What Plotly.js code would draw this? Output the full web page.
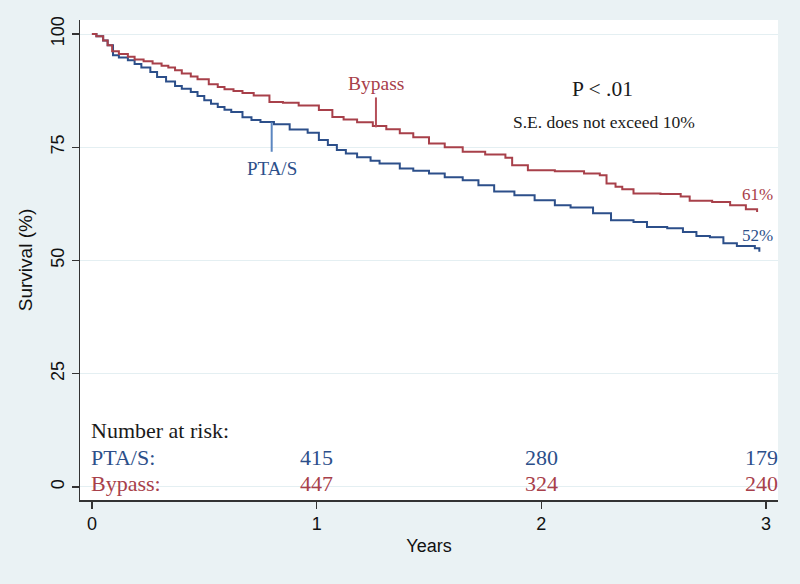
<!DOCTYPE html>
<html>
<head>
<meta charset="utf-8">
<script src="https://cdn.plot.ly/plotly-3.0.1.min.js"></script>
<style>html,body{margin:0;padding:0;background:#eaf2f4;}#chart{width:800px;height:584px;}</style>
</head>
<body>
<div id="chart"></div>
<script>
// ---- Data ----
const bypassYears = [0, 0.02, 0.05, 0.07, 0.09, 0.12, 0.16, 0.19, 0.23, 0.27, 0.31, 0.34, 0.37, 0.40, 0.44, 0.47, 0.52, 0.56, 0.59, 0.63, 0.67, 0.72, 0.79, 0.85, 0.92, 1.01, 1.07, 1.12, 1.18, 1.25, 1.31, 1.37, 1.43, 1.50, 1.57, 1.65, 1.75, 1.84, 1.87, 1.94, 2.06, 2.19, 2.26, 2.29, 2.33, 2.36, 2.41, 2.53, 2.62, 2.66, 2.76, 2.84, 2.91, 2.96];
const bypassSurv  = [100, 99.5, 98.6, 97.5, 96.2, 95.6, 95.0, 94.4, 94.0, 93.5, 93.0, 92.6, 92.0, 91.3, 90.6, 90.0, 88.9, 88.3, 87.8, 87.4, 87.0, 86.4, 85.0, 84.8, 84.2, 83.2, 81.7, 81.1, 80.5, 79.7, 79.0, 78.1, 77.2, 75.8, 75.0, 74.0, 73.4, 72.7, 71.0, 69.9, 69.7, 69.2, 68.8, 67.0, 66.3, 65.7, 64.8, 64.7, 64.1, 63.2, 62.9, 62.2, 61.3, 60.7];

const ptaYears = [0, 0.02, 0.05, 0.07, 0.094, 0.12, 0.16, 0.19, 0.22, 0.26, 0.29, 0.33, 0.37, 0.40, 0.44, 0.47, 0.50, 0.53, 0.56, 0.59, 0.62, 0.67, 0.71, 0.75, 0.81, 0.88, 0.96, 1.01, 1.05, 1.09, 1.13, 1.18, 1.24, 1.28, 1.37, 1.43, 1.50, 1.57, 1.65, 1.72, 1.79, 1.88, 1.97, 2.06, 2.13, 2.23, 2.31, 2.41, 2.47, 2.56, 2.63, 2.69, 2.75, 2.81, 2.87, 2.93, 2.95, 2.97];
const ptaSurv  = [100, 99.5, 98.6, 97.5, 95.3, 94.8, 94.2, 93.4, 92.6, 91.6, 90.5, 89.5, 88.5, 87.9, 87.2, 86.3, 85.4, 84.6, 83.9, 83.3, 82.8, 81.6, 81.0, 80.6, 80.1, 78.9, 78.2, 76.6, 75.5, 74.4, 73.6, 72.8, 72.0, 71.4, 70.3, 69.8, 69.2, 68.4, 67.7, 66.6, 65.2, 64.4, 63.3, 62.2, 61.7, 60.4, 58.9, 58.5, 57.4, 57.1, 56.3, 55.4, 55.1, 53.8, 53.2, 53.2, 52.7, 51.9];

const groupNames = ['PTA/S', 'Bypass'];
const riskYears = [1, 2, 2.98];
const riskPTA = [415, 280, 179];
const riskBypass = [447, 324, 240];
const finalLabels = ['52%', '61%'];
const xTicks = [0, 1, 2, 3];
const yTicks = [0, 25, 50, 75, 100];

// ---- Styles ----
const RED = '#a8404a';
const BLUE = '#2c4f8a';
const SERIF = 'Liberation Serif, Times New Roman, serif';
const SANS = 'Liberation Sans, Arial, sans-serif';

const traces = [
  {x: ptaYears, y: ptaSurv, type: 'scatter', mode: 'lines', line: {shape: 'hv', color: BLUE, width: 2}, name: groupNames[0], hoverinfo: 'skip'},
  {x: bypassYears, y: bypassSurv, type: 'scatter', mode: 'lines', line: {shape: 'hv', color: RED, width: 2}, name: groupNames[1], hoverinfo: 'skip'}
];

const ann = [];
function txt(x, y, text, color, size, xanchor) {
  ann.push({x: x, y: y, xref: 'x', yref: 'y', text: text, showarrow: false,
    font: {family: SERIF, size: size, color: color}, xanchor: xanchor || 'center', yanchor: 'middle'});
}
txt(1.264, 89.0, groupNames[1], RED, 19.5);
txt(0.80, 70.3, groupNames[0], BLUE, 19);
txt(2.27, 87.8, 'P &lt; .01', '#1a1a1a', 21.5);
txt(2.28, 80.6, 'S.E. does not exceed 10%', '#1a1a1a', 17.5);
txt(2.96, 64.6, finalLabels[1], RED, 17);
txt(2.96, 55.6, finalLabels[0], BLUE, 17);
txt(-0.015, 12.5, 'Number at risk:', '#1a1a1a', 22, 'left');
txt(-0.015, 6.4, groupNames[0] + ':', BLUE, 22, 'left');
txt(-0.015, 0.8, groupNames[1] + ':', RED, 22, 'left');
riskYears.forEach((t, i) => {
  txt(t, 6.4, String(riskPTA[i]), BLUE, 22);
  txt(t, 0.8, String(riskBypass[i]), RED, 22);
});

const shapes = [
  {type: 'line', xref: 'x', yref: 'y', x0: 0.80, x1: 0.80, y0: 80.5, y1: 74.0, line: {color: '#5b86c0', width: 2}},
  {type: 'line', xref: 'x', yref: 'y', x0: 1.264, x1: 1.264, y0: 86.0, y1: 79.4, line: {color: '#b5505a', width: 2}}
];

const layout = {
  width: 800, height: 584,
  margin: {l: 80, r: 22, t: 20, b: 84},
  paper_bgcolor: '#eaf2f4',
  plot_bgcolor: '#ffffff',
  showlegend: false,
  xaxis: {
    range: [-0.053, 3.053], tickvals: xTicks, ticktext: xTicks.map(String),
    ticks: 'outside', ticklen: 7, tickwidth: 1.5, tickcolor: '#333',
    showline: true, linecolor: '#333', linewidth: 1.5,
    showgrid: false, zeroline: false, automargin: false,
    tickfont: {family: SANS, size: 18, color: '#111'},
    title: {text: 'Years', font: {family: SANS, size: 18, color: '#111'}, standoff: 6}
  },
  yaxis: {
    range: [-2.9, 103.1], tickvals: yTicks, ticktext: yTicks.map(String), tickangle: -90,
    ticks: 'outside', ticklen: 7, tickwidth: 1.5, tickcolor: '#333',
    showline: true, linecolor: '#333', linewidth: 1.5,
    showgrid: true, gridcolor: '#e4eff2', gridwidth: 1, zeroline: false, automargin: false,
    tickfont: {family: SANS, size: 18, color: '#111'},
    title: {text: 'Survival (%)', font: {family: SANS, size: 19, color: '#111'}, standoff: 10}
  },
  annotations: ann,
  shapes: shapes
};

Plotly.newPlot('chart', traces, layout, {staticPlot: true, displayModeBar: false});
</script>
</body>
</html>
